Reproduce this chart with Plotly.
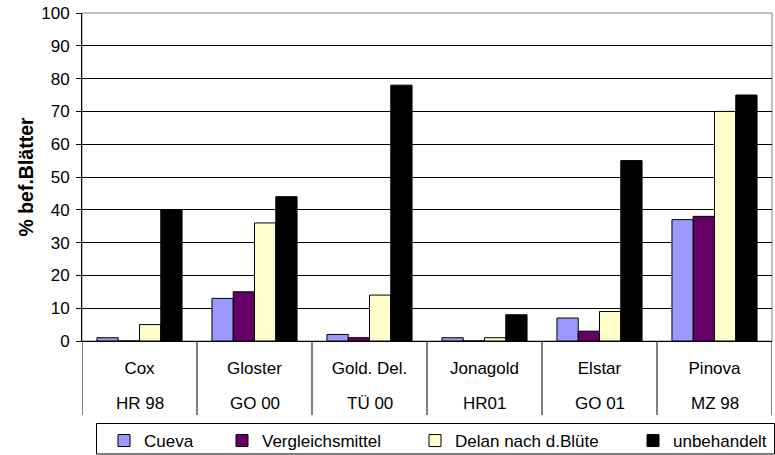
import plotly.graph_objects as go

varieties = ["Cox", "Gloster", "Gold. Del.", "Jonagold", "Elstar", "Pinova"]
sites = ["HR 98", "GO 00", "TÜ 00", "HR01", "GO 01", "MZ 98"]

cueva = [1, 13, 2, 1, 7, 37]
vergleichsmittel = [0, 15, 1, 0, 3, 38]
delan = [5, 36, 14, 1, 9, 70]
unbehandelt = [40, 44, 78, 8, 55, 75]

series = [
    ("Cueva", cueva, "#9999FF"),
    ("Vergleichsmittel", vergleichsmittel, "#660066"),
    ("Delan nach d.Blüte", delan, "#FFFFCC"),
    ("unbehandelt", unbehandelt, "#000000"),
]
# left edge (page px) of each legend entry
legend_left = [104, 222, 415, 633]

FONT = "Liberation Sans, Arial, sans-serif"
FS = 17
H = 455
T, B, L, R = 13, 0, 82, 3
PH = H - T - B
PW = 775 - L - R


def py(pix):
    return (H - B - pix) / PH


def px(pix):
    return (pix - L) / PW


ydom0 = py(341)

fig = go.Figure()
legend_layouts = {}
for k, (name, vals, col) in enumerate(series):
    lid = "legend" if k == 0 else f"legend{k + 1}"
    fig.add_trace(go.Bar(
        x=varieties, y=vals, name=name, legend=lid,
        marker=dict(color=col, line=dict(color="#000000", width=1)),
    ))
    legend_layouts[lid] = dict(
        orientation="h", x=px(legend_left[k]), xanchor="left",
        y=py(423), yanchor="top", borderwidth=0,
        bgcolor="rgba(0,0,0,0)", font=dict(size=FS), itemwidth=30,
    )

shapes = []
for i in range(len(varieties) + 1):
    shapes.append(dict(type="line", xref="x", yref="paper",
                       x0=i - 0.5, x1=i - 0.5, y0=ydom0, y1=py(415),
                       line=dict(color="#000000", width=1)))
shapes.append(dict(type="rect", xref="x domain", yref="y domain",
                   x0=0, x1=1, y0=0, y1=1, layer="below",
                   line=dict(color="#808080", width=1)))
# legend frame
shapes.append(dict(type="rect", xref="paper", yref="paper",
                   x0=px(96.5), x1=px(774.5), y0=py(454), y1=py(423.5),
                   line=dict(color="#000000", width=1)))

annotations = [
    dict(x=v, y=py(403), xref="x", yref="paper", text=s, showarrow=False,
         xanchor="center", yanchor="middle", font=dict(size=FS))
    for v, s in zip(varieties, sites)
]

fig.update_layout(
    width=775, height=H,
    margin=dict(l=L, r=R, t=T, b=B, autoexpand=False),
    paper_bgcolor="white", plot_bgcolor="white",
    font=dict(family=FONT, size=FS, color="#000000"),
    barmode="group", bargap=0.26, bargroupgap=0,
    showlegend=True,
    yaxis=dict(domain=[ydom0, 1], range=[0, 100], dtick=10, showgrid=True,
               gridcolor="#000000", gridwidth=1, ticks="outside", ticklen=5,
               tickcolor="#000000", showline=True, linecolor="#000000", linewidth=1,
               zeroline=False, tickfont=dict(size=FS), ticklabelstandoff=3,
               automargin=False,
               title=dict(text="<b>% bef.Blätter</b>", font=dict(size=19.5), standoff=2)),
    xaxis=dict(type="category", categoryorder="array", categoryarray=varieties,
               showgrid=False, showline=True, linecolor="#000000", ticks="",
               zeroline=False, tickfont=dict(size=FS), ticklabelstandoff=12,
               automargin=False, range=[-0.5, 5.5]),
    shapes=shapes,
    annotations=annotations,
    **legend_layouts,
)

fig.write_html("out.html")
